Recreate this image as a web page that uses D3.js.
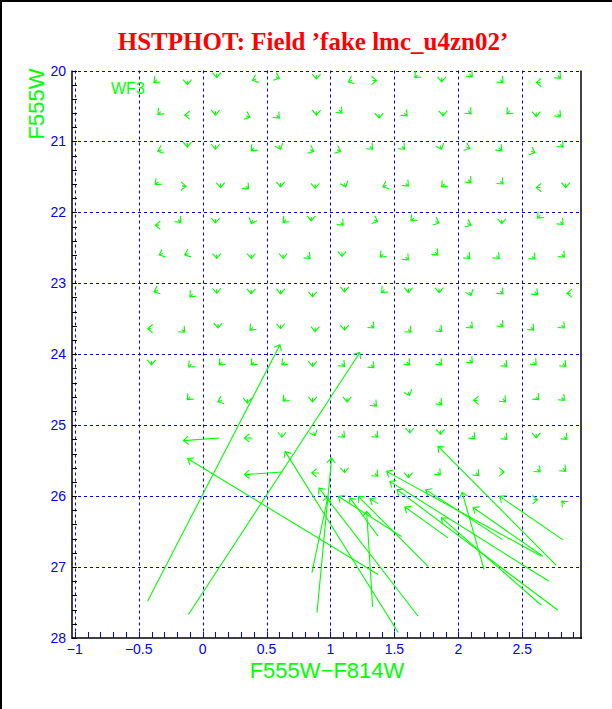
<!DOCTYPE html>
<html>
<head>
<meta charset="utf-8">
<script src="https://cdn.jsdelivr.net/npm/d3@7"></script>
<style>
body{margin:0;background:#fff}
svg{display:block}
</style>
</head>
<body>
<svg id="chart" width="612" height="709"></svg>
<script>
// axis ticks
var xTickValues = [-1, -0.5, 0, 0.5, 1, 1.5, 2, 2.5]
var xTickLabels = ["\u22121", "\u22120.5", "0", "0.5", "1", "1.5", "2", "2.5"]
var yTickValues = [20, 21, 22, 23, 24, 25, 26, 27, 28]
var yTickLabels = ["20", "21", "22", "23", "24", "25", "26", "27", "28"]

// fake stars that barely moved: arrow tip (colour, mag) and the way it points
var smallColor = [
  -0.38,-0.12,0.11,0.39,0.60,0.89,1.14,1.36,1.66,1.87,2.11,2.35,2.61,2.80,
  -0.35,-0.14,0.10,0.37,0.60,0.89,1.09,1.38,1.60,1.88,2.10,2.38,2.61,2.80,
  -0.35,-0.12,0.10,0.38,0.61,0.87,1.08,1.33,1.58,1.87,2.09,2.34,2.60,2.82,
  -0.37,-0.13,0.14,0.36,0.61,0.88,1.12,1.41,1.61,1.87,2.10,2.35,2.61,2.84,
  -0.37,-0.17,0.10,0.38,0.63,0.85,1.10,1.37,1.63,1.85,2.10,2.34,2.62,2.82,
  -0.34,-0.14,0.11,0.38,0.63,0.84,1.09,1.39,1.61,1.84,2.09,2.32,2.60,2.83,
  -0.38,-0.10,0.11,0.38,0.61,0.86,1.11,1.40,1.61,1.85,2.10,2.35,2.62,2.85,
  -0.43,-0.14,0.12,0.37,0.61,0.88,1.11,1.34,1.63,1.87,2.11,2.35,2.59,2.83,
  -0.40,-0.11,0.13,0.38,0.62,0.86,1.11,1.34,1.62,1.87,2.11,2.38,2.61,2.84,
  -0.12,0.12,0.35,0.63,0.86,1.13,1.36,1.62,1.87,2.12,2.37,2.63,2.83,
  0.62,0.88,1.11,1.37,1.62,1.86,2.13,2.38,2.61,2.85,
  1.11,1.37,1.61,1.86,2.16,2.36,2.64,2.84,
  2.62,2.81
]
var smallMag = [
  20.17,20.20,20.10,20.14,20.11,20.12,20.16,20.14,20.10,20.16,20.09,20.17,20.17,20.11,
  20.62,20.63,20.63,20.66,20.67,20.63,20.60,20.67,20.64,20.64,20.61,20.61,20.65,20.65,
  21.14,21.08,21.11,21.13,21.11,21.14,21.14,21.11,21.11,21.11,21.10,21.13,21.16,21.08,
  21.61,21.63,21.65,21.67,21.64,21.66,21.64,21.64,21.63,21.64,21.58,21.60,21.65,21.65,
  22.18,22.14,22.15,22.16,22.14,22.12,22.18,22.13,22.12,22.15,22.18,22.16,22.08,22.17,
  22.60,22.60,22.65,22.65,22.65,22.65,22.62,22.63,22.67,22.60,22.65,22.65,22.66,22.63,
  23.12,23.19,23.14,23.15,23.15,23.19,23.12,23.13,23.13,23.13,23.17,23.15,23.16,23.14,
  23.64,23.69,23.63,23.66,23.64,23.68,23.66,23.63,23.69,23.68,23.63,23.61,23.66,23.63,
  24.15,24.18,24.15,24.15,24.15,24.17,24.17,24.19,24.15,24.15,24.12,24.17,24.15,24.17,
  24.64,24.67,24.69,24.66,24.67,24.67,24.73,24.58,24.71,24.65,24.67,24.64,24.65,
  25.17,25.15,25.17,25.17,25.11,25.13,25.19,25.20,25.18,25.20,
  25.67,25.72,25.74,25.70,25.71,25.66,25.66,25.65,
  26.05,26.07
]
var smallDir = [
  "SW","S","S","WSW","ESE","S","WSW","E","SW","S","SE","SE","W","SE",
  "SW","W","S","ESE","SE","S","SE","S","SE","S","SE","SW","S","SE",
  "WSW","S","S","SW","SSE","ESE","ESE","SE","SE","SSE","ESE","SE","ESE","SE",
  "SW","E","S","SE","S","S","SSE","WSW","SE","SW","SE","SE","W","S",
  "W","SE","S","SSW","SW","S","SE","ESE","SW","ESE","ESE","S","SW","SE",
  "WSW","WSW","S","S","S","SE","S","SW","SE","SE","SE","SE","SE","SE",
  "WSW","SW","S","S","S","S","S","SW","S","S","SSE","SE","SE","W",
  "W","SE","S","SW","S","S","S","SE","SE","SE","SE","SE","SE","SE",
  "S","SW","SW","SW","SW","S","SE","SE","SE","SE","SE","SE","SE","SE",
  "SW","WSW","S","SW","S","S","SE","SSE","SE","W","SE","SE","SE",
  "S","SSE","SE","SE","S","S","SE","SE","S","SE",
  "S","SE","S","SE","SE","E","SE","SE",
  "E","NW"
]

// stars that moved a lot: start (colour, mag) -> arrow tip (colour, mag)
var longColorIn  = [0.131,-0.431,-0.111,1.373,1.530,0.619,2.767,2.819,2.202,0.895,0.855,1.686,1.764,1.556,1.373,1.330,2.650,2.709,2.780,2.650,2.345,1.920,1.373,2.662,0.389,0.910]
var longMagIn    = [25.180,27.482,27.669,27.106,27.923,25.659,26.975,26.617,27.035,27.641,27.077,27.693,26.989,26.570,26.566,27.561,26.848,27.200,27.608,27.538,26.613,26.589,26.106,26.848,25.180,25.673]
var longColorOut = [-0.150,0.605,1.230,-0.116,0.645,0.327,1.842,2.324,2.030,1.009,0.980,0.910,1.217,1.061,1.152,1.283,1.439,1.465,1.522,1.869,1.746,1.582,1.309,2.116,0.327,0.853]
var longMagOut   = [25.218,23.866,23.975,25.472,25.369,25.697,25.299,26.003,25.946,25.462,26.007,25.885,26.003,26.003,26.025,26.214,25.651,25.792,25.908,26.307,25.908,26.152,26.039,26.159,25.180,25.673]

var dirAngle = {E:0, ESE:22.5, SE:45, SSE:67.5, S:90, SSW:112.5, SW:135, WSW:157.5, W:180, NW:225, N:270, NE:315}

var svg = d3.select('#chart')
var x = d3.scaleLinear().domain([-1.022, 2.96]).range([72, 581])
var y = d3.scaleLinear().domain([20, 28]).range([70.5, 638])

var green = '#00ff00', blue = '#0000ff'

// image border (left + top)
svg.append('rect').attr('x',0).attr('y',0).attr('width',2).attr('height',709).attr('fill','#000')
svg.append('rect').attr('x',0).attr('y',0).attr('width',612).attr('height',2).attr('fill','#000')

// title
svg.append('text')
  .attr('x', 313).attr('y', 50)
  .attr('text-anchor','middle')
  .attr('font-family','"Liberation Serif", "Times New Roman", serif')
  .attr('font-weight','bold')
  .attr('font-size', 25)
  .attr('fill','#ff0000')
  .text('HSTPHOT: Field \u2019fake lmc_u4zn02\u2019')

// grid (dashed blue)
var grid = svg.append('g').attr('stroke', blue).attr('stroke-width',1).attr('stroke-dasharray','3,3')
grid.selectAll('line.v').data(xTickValues).enter().append('line')
  .attr('class','v')
  .attr('x1', d=>Math.round(x(d))+0.5).attr('x2', d=>Math.round(x(d))+0.5)
  .attr('y1', y(20)).attr('y2', y(28))
grid.selectAll('line.h').data(yTickValues.slice(0,-1)).enter().append('line')
  .attr('class','h')
  .attr('y1', d=>Math.round(y(d))+0.5).attr('y2', d=>Math.round(y(d))+0.5)
  .attr('x1', x.range()[0]).attr('x2', x.range()[1])

// minor ticks
var xMinor = d3.range(-10, 30).map(d=>d/10)
svg.append('g').attr('stroke', blue)
  .selectAll('line').data(xMinor).enter().append('line')
  .attr('x1', d=>Math.round(x(d))+0.5).attr('x2', d=>Math.round(x(d))+0.5)
  .attr('y1', y(28)).attr('y2', y(28)-6)
var yMinor = d3.range(100, 141).map(d=>d/5)
svg.append('g').attr('stroke', '#000')
  .selectAll('line').data(yMinor).enter().append('line')
  .attr('y1', d=>Math.round(y(d))+0.5).attr('y2', d=>Math.round(y(d))+0.5)
  .attr('x1', x.range()[0]).attr('x2', x.range()[0]+5)

// frame: left, bottom, right solid black
var frame = svg.append('g').attr('stroke','#000').attr('stroke-width',1.5)
frame.append('line').attr('x1',x.range()[0]).attr('x2',x.range()[0]).attr('y1',y(20)).attr('y2',y(28)+1)
frame.append('line').attr('x1',x.range()[0]).attr('x2',x.range()[1]+1).attr('y1',y(28)).attr('y2',y(28))
frame.append('line').attr('x1',x.range()[1]).attr('x2',x.range()[1]).attr('y1',y(20)).attr('y2',y(28)+1)

// tick labels
var lab = svg.append('g').attr('fill', blue).attr('font-family','"Liberation Sans", Arial, sans-serif').attr('font-size',14)
lab.selectAll('text.x').data(xTickValues).enter().append('text')
  .attr('class','x')
  .attr('x', d=>x(d)).attr('y', 654).attr('text-anchor','middle')
  .text((d,i)=>xTickLabels[i])
lab.selectAll('text.y').data(yTickValues).enter().append('text')
  .attr('class','y')
  .attr('x', 66).attr('y', d=>y(d)+5).attr('text-anchor','end')
  .text((d,i)=>yTickLabels[i])

// axis titles
svg.append('text')
  .attr('transform','translate(44,104) rotate(-90)')
  .attr('text-anchor','middle')
  .attr('font-family','"Liberation Sans", Arial, sans-serif').attr('font-size',22)
  .attr('fill', green).text('F555W')
svg.append('text')
  .attr('x', 327).attr('y', 678).attr('text-anchor','middle')
  .attr('font-family','"Liberation Sans", Arial, sans-serif').attr('font-size',22)
  .attr('fill', green).text('F555W\u2212F814W')

svg.append('text')
  .attr('x', 111).attr('y', 94)
  .attr('font-family','"Liberation Sans", Arial, sans-serif').attr('font-size',16)
  .attr('fill', green).text('WF3')

// arrows
function arrowPath(x1, y1, x2, y2){
  var a = Math.atan2(y2-y1, x2-x1), h = 6.5, s = 40*Math.PI/180
  var p = d3.path()
  p.moveTo(x1, y1); p.lineTo(x2, y2)
  p.moveTo(x2 - h*Math.cos(a-s), y2 - h*Math.sin(a-s))
  p.lineTo(x2, y2)
  p.lineTo(x2 - h*Math.cos(a+s), y2 - h*Math.sin(a+s))
  return p.toString()
}

var small = smallColor.map((c,i)=>({c:c, m:smallMag[i], dir:smallDir[i]}))
var longs = longColorIn.map((c,i)=>({c0:c, m0:longMagIn[i], c1:longColorOut[i], m1:longMagOut[i]}))

var arrows = svg.append('g').attr('fill','none').attr('stroke', green).attr('stroke-width',1.1)

arrows.selectAll('path.small').data(small).enter().append('path')
  .attr('class','small')
  .attr('d', function(d){
    var tx = x(d.c), ty = y(d.m), a = dirAngle[d.dir]*Math.PI/180
    return arrowPath(tx - 4*Math.cos(a), ty - 4*Math.sin(a), tx, ty)
  })

arrows.selectAll('path.long').data(longs).enter().append('path')
  .attr('class','long')
  .attr('d', d=>arrowPath(x(d.c0), y(d.m0), x(d.c1), y(d.m1)))
</script>
</body>
</html>
